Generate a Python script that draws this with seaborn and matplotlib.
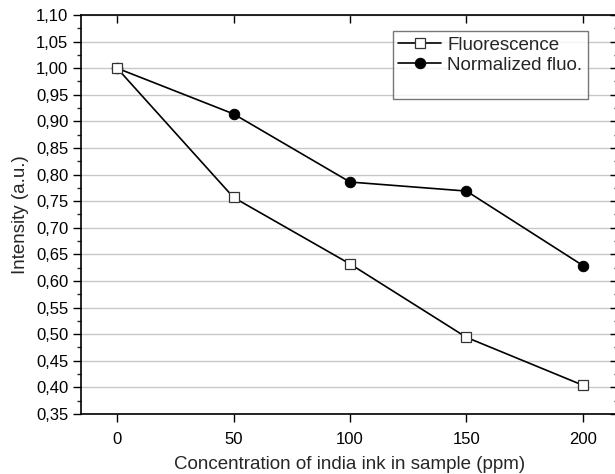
import numpy as np
import pandas as pd
import seaborn as sns
import matplotlib.pyplot as plt
from matplotlib.lines import Line2D
from matplotlib.ticker import MultipleLocator, FuncFormatter

# values
concentration = [0, 50, 100, 150, 200]
fluorescence = [1.000, 0.757, 0.632, 0.494, 0.404]
normalized_fluo = [1.000, 0.914, 0.786, 0.769, 0.629]
series_names = ["Fluorescence", "Normalized fluo."]

sns.set_style("white")
plt.rcParams['font.family'] = ['Liberation Sans', 'DejaVu Sans']

fig = plt.figure(figsize=(6.15, 4.74), dpi=100)
ax = fig.add_axes([0.1317, 0.1266, 0.873, 0.8418])

sns.lineplot(x=concentration, y=fluorescence, ax=ax, color='black', lw=1.2,
             marker='s', markersize=7, markerfacecolor='white',
             markeredgecolor='#333333', markeredgewidth=0.9, label=series_names[0],
             zorder=4)
sns.lineplot(x=concentration, y=normalized_fluo, ax=ax, color='black', lw=1.2,
             marker='o', markersize=7.5, markerfacecolor='black',
             markeredgecolor='black', label=series_names[1], zorder=3)

ax.set_xlim(-15.5, 215)
ax.set_ylim(0.35, 1.10)
ax.xaxis.set_major_locator(MultipleLocator(50))
ax.yaxis.set_major_locator(MultipleLocator(0.05))
ax.yaxis.set_minor_locator(MultipleLocator(0.025))
ax.yaxis.set_major_formatter(FuncFormatter(lambda v, p: '{:.2f}'.format(v).replace('.', ',')))

ax.grid(axis='y', which='major', color='#c8c8c8', lw=1.0)
ax.set_axisbelow(True)
for s in ax.spines.values():
    s.set_visible(True)
    s.set_color('black')
    s.set_linewidth(1.2)

ax.tick_params(axis='both', which='major', labelsize=12, colors='black', width=1.0)
ax.tick_params(axis='x', which='major', bottom=True, top=True, length=6, direction='out', pad=7)
ax.tick_params(axis='y', which='major', left=True, right=True, length=6, direction='out', pad=3)
ax.tick_params(axis='y', which='minor', left=True, right=True, length=3, width=1.0, direction='out')
# mirrored ticks on top/right point inward
for t in ax.xaxis.get_major_ticks():
    t.tick2line.set_marker(3)
    t.tick2line.set_markersize(6)
for t in ax.yaxis.get_major_ticks():
    t.tick2line.set_marker(0)
    t.tick2line.set_markersize(6)
for t in ax.yaxis.get_minor_ticks():
    t.tick2line.set_marker(0)
    t.tick2line.set_markersize(3)

ax.set_xlabel("Concentration of india ink in sample (ppm)", fontsize=13.5, labelpad=6.5)
ax.set_ylabel("Intensity (a.u.)", fontsize=13.5, labelpad=5)

handles, labels = ax.get_legend_handles_labels()
handles.append(Line2D([], [], color='none'))
labels.append(' ')
leg = ax.legend(handles, labels, loc='upper right', bbox_to_anchor=(0.944, 0.96),
                borderaxespad=0, fancybox=False, frameon=True, fontsize=13.5,
                handlelength=2.3, handletextpad=0.3, labelspacing=0.15, borderpad=0.3)
leg.get_frame().set_edgecolor('#555555')
leg.get_frame().set_linewidth(1.0)

fig.savefig("out.png", dpi=100)
